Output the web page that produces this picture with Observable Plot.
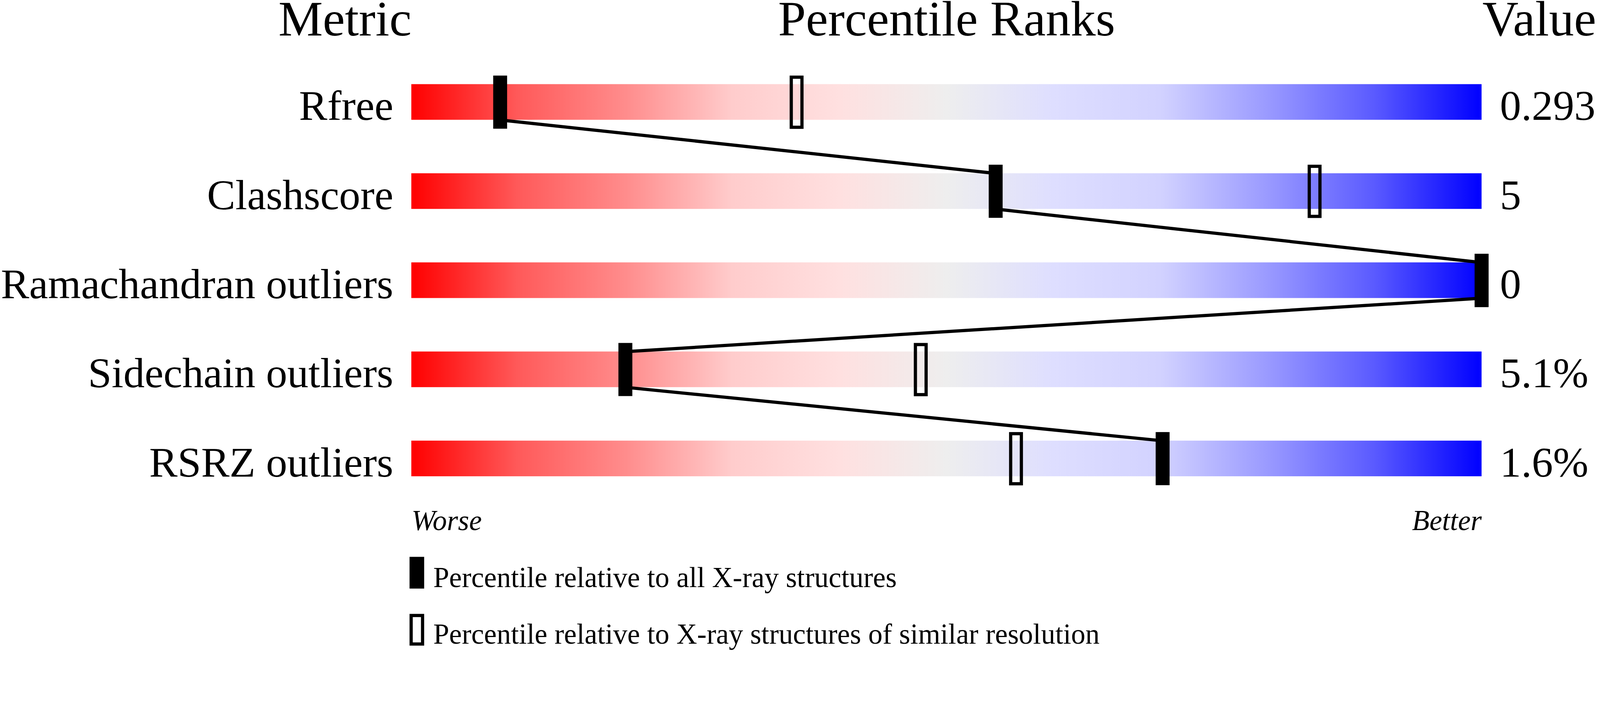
<!DOCTYPE html>
<html>
<head>
<meta charset="utf-8">
<script src="https://cdn.jsdelivr.net/npm/d3@7"></script>
<script src="https://cdn.jsdelivr.net/npm/@observablehq/plot@0.6"></script>
<style>
  html, body { margin: 0; padding: 0; background: #ffffff; }
  #chart svg { display: block; }
</style>
</head>
<body>
<div id="chart"></div>
<script>
// ---- data ----
const metrics = ["Rfree", "Clashscore", "Ramachandran outliers", "Sidechain outliers", "RSRZ outliers"];
const values = ["0.293", "5", "0", "5.1%", "1.6%"];
const pctAll = [8.3, 54.6, 100, 20.0, 70.2];        // percentile relative to all X-ray structures
const pctSimilar = [36.0, 84.4, 100, 47.6, 56.5];   // percentile relative to similar resolution
const headers = ["Metric", "Percentile Ranks", "Value"];
const endLabels = ["Worse", "Better"];
const legendLabels = [
  "Percentile relative to all X-ray structures",
  "Percentile relative to X-ray structures of similar resolution"
];

// ---- styling ----
const gradientStops = [
  [0.00, "#ff0000"], [0.10, "#ff5a5a"], [0.20, "#ff8c8c"], [0.30, "#ffcccc"],
  [0.40, "#ffe0e0"], [0.50, "#eeeeee"], [0.60, "#dedeff"], [0.70, "#d2d2ff"],
  [0.80, "#9a9aff"], [0.90, "#5a5aff"], [1.00, "#0000ff"]
];
const FONT = "'Liberation Serif', 'Times New Roman', Times, serif";
const H = 0.2; // half bar height in row units

const rows = metrics.map((metric, i) => ({
  metric, row: i, value: values[i], all: pctAll[i], similar: pctSimilar[i]
}));
const links = d3.pairs(rows);
const last = rows.length - 1;

const plot = Plot.plot({
  width: 4485,
  height: 1824,
  margin: 0,
  style: { fontFamily: FONT, background: "#ffffff", color: "#000000" },
  x: { domain: [0, 100], range: [1153, 4153], axis: null },
  y: { domain: [0, last], range: [286, 1286], axis: null },
  marks: [
    // gradient bars
    Plot.rect(rows, {
      x1: 0, x2: 100,
      y1: d => d.row - H, y2: d => d.row + H,
      fill: "url(#pct-grad)"
    }),
    // similar-resolution (open) markers
    Plot.rect(rows, {
      x1: "similar", x2: "similar",
      y1: d => d.row - H, y2: d => d.row + H,
      insetLeft: -15, insetRight: -15, insetTop: -19.5, insetBottom: -21,
      fill: "none", stroke: "#000000", strokeWidth: 9
    }),
    // connecting line between all-structure markers
    Plot.link(links, {
      x1: ([a]) => a.all, y1: ([a]) => a.row + H,
      x2: ([, b]) => b.all, y2: ([, b]) => b.row - H,
      stroke: "#000000", strokeWidth: 9
    }),
    // all-structure (filled) markers
    Plot.rect(rows, {
      x1: "all", x2: "all",
      y1: d => d.row - H, y2: d => d.row + H,
      insetLeft: -19.5, insetRight: -19.5, insetTop: -24, insetBottom: -25,
      fill: "#000000"
    }),
    // metric labels
    Plot.text(rows, {
      x: 0, y: d => d.row + H, text: "metric",
      textAnchor: "end", lineAnchor: "bottom", dx: -51, fontSize: 119
    }),
    // values
    Plot.text(rows, {
      x: 100, y: d => d.row + H, text: "value",
      textAnchor: "start", lineAnchor: "bottom", dx: 51, fontSize: 119
    }),
    // headers
    Plot.text([headers[0]], { x: 0, frameAnchor: "top", lineAnchor: "top", textAnchor: "end", fontSize: 140 }),
    Plot.text([headers[1]], { x: 50, frameAnchor: "top", lineAnchor: "top", textAnchor: "middle", fontSize: 140 }),
    Plot.text([headers[2]], { x: 100, frameAnchor: "top", lineAnchor: "top", textAnchor: "start", dx: 2, fontSize: 140 }),
    // Worse / Better
    Plot.text([endLabels[0]], { x: 0, y: () => last + H, dy: 151, lineAnchor: "bottom", textAnchor: "start", fontStyle: "italic", fontSize: 80 }),
    Plot.text([endLabels[1]], { x: 100, y: () => last + H, dy: 151, lineAnchor: "bottom", textAnchor: "end", fontStyle: "italic", fontSize: 80 }),
    // legend swatches
    Plot.rect([legendLabels[0]], {
      x1: 0, x2: 0, y1: () => last + H, y2: () => last + H,
      insetLeft: -5, insetRight: -36, insetTop: 226, insetBottom: -315,
      fill: "#000000"
    }),
    Plot.rect([legendLabels[1]], {
      x1: 0, x2: 0, y1: () => last + H, y2: () => last + H,
      insetLeft: -0.5, insetRight: -31.5, insetTop: 390.5, insetBottom: -470.5,
      fill: "none", stroke: "#000000", strokeWidth: 9
    }),
    // legend texts
    Plot.text([legendLabels[0]], { x: 0, y: () => last + H, dx: 61, dy: 310, lineAnchor: "bottom", textAnchor: "start", fontSize: 80 }),
    Plot.text([legendLabels[1]], { x: 0, y: () => last + H, dx: 61, dy: 469, lineAnchor: "bottom", textAnchor: "start", fontSize: 80 })
  ]
});

// gradient definition used by the bars
const defs = d3.select(plot).insert("defs", ":first-child");
const grad = defs.append("linearGradient")
  .attr("id", "pct-grad")
  .attr("x1", "0").attr("x2", "1").attr("y1", "0").attr("y2", "0");
gradientStops.forEach(([o, c]) => grad.append("stop").attr("offset", o).attr("stop-color", c));

document.getElementById("chart").appendChild(plot);
</script>
</body>
</html>
